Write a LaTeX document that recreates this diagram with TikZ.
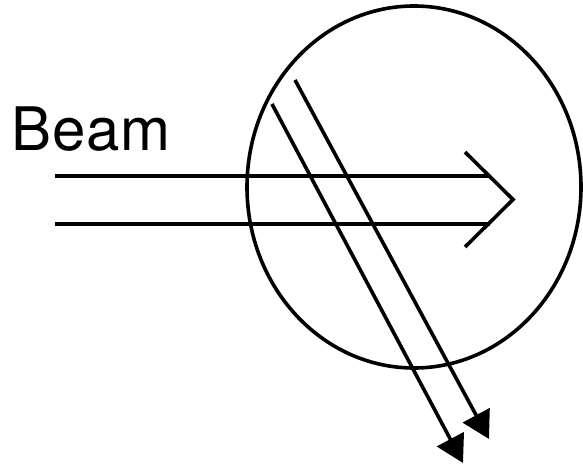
\documentclass[tikz,border=0pt]{standalone}
\usepackage{fontspec}
\setmainfont{TeX Gyre Heros}
\usetikzlibrary{arrows.meta}
\tikzset{
  stroke/.style={line width=3.6pt, line cap=butt, line join=miter},
  ray/.style={stroke, -{Triangle[length=27pt,width=30pt]}}
}
\begin{document}
\begin{tikzpicture}[x=1pt,y=-1pt]
\useasboundingbox (0,0) rectangle (583,468);
% vessel
\draw[stroke] (414,187) ellipse [x radius=167, y radius=181];
% label
\node[anchor=base west, inner sep=0pt, font=\fontsize{60}{62}\selectfont] (lbl) at (11,150) {B\kern1pt e\kern1pt a\kern1pt m};
% incoming beam
\coordinate (b1) at (55,176);
\coordinate (b2) at (55,224);
\coordinate (c1) at (465,152);
\coordinate (ct) at (513,199.5);
\coordinate (c2) at (465,247);
\draw[stroke] (b1) -- (489.5,176);
\draw[stroke] (b2) -- (489.5,224);
\draw[stroke] (c1) -- (ct) -- (c2);
% scattered rays
\coordinate (s1) at (272,104);
\coordinate (e1) at (463,463);
\coordinate (s2) at (295,80);
\coordinate (e2) at (489,439);
\draw[ray] (s1) -- (e1);
\draw[ray] (s2) -- (e2);
\end{tikzpicture}
\end{document}
